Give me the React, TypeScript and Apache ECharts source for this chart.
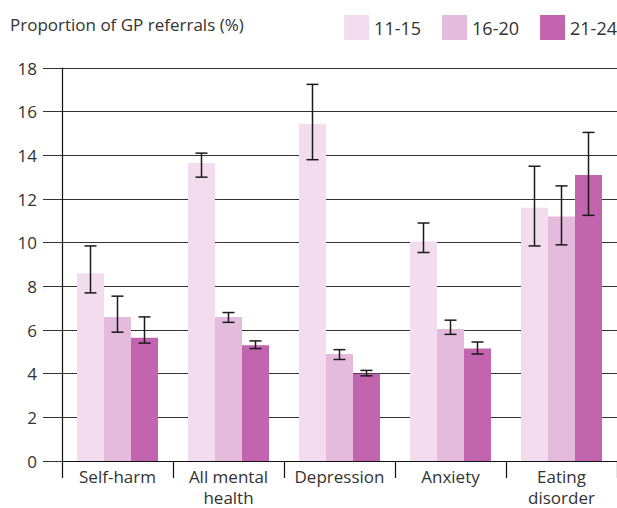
import React, { useEffect, useRef } from "react";
import * as echarts from "echarts";

const categories = ["Self-harm", "All mental\nhealth", "Depression", "Anxiety", "Eating\ndisorder"];
const seriesNames = ["11-15", "16-20", "21-24"];
const colors = ["#f2dcee", "#e4bbdc", "#c264ae"];

const values11to15 = [8.6, 13.65, 15.45, 10.05, 11.6];
const values16to20 = [6.6, 6.6, 4.9, 6.05, 11.2];
const values21to24 = [5.65, 5.3, 4.0, 5.15, 13.1];

const low11to15 = [7.7, 13.0, 13.8, 9.55, 9.85];
const high11to15 = [9.85, 14.1, 17.25, 10.9, 13.5];
const low16to20 = [5.9, 6.35, 4.65, 5.8, 9.9];
const high16to20 = [7.55, 6.8, 5.1, 6.45, 12.6];
const low21to24 = [5.4, 5.15, 3.9, 4.9, 11.25];
const high21to24 = [6.6, 5.5, 4.15, 5.45, 15.05];

const yTicks = [0, 2, 4, 6, 8, 10, 12, 14, 16, 18];

const allValues = [values11to15, values16to20, values21to24];
const allLows = [low11to15, low16to20, low21to24];
const allHighs = [high11to15, high16to20, high21to24];

const BAR_W = 27;
const FONT = "'Open Sans', 'Noto Sans', sans-serif";

export default function App() {
  const ref = useRef<HTMLDivElement>(null);
  useEffect(() => {
    if (!ref.current) return;
    const chart = echarts.init(ref.current, null, { renderer: "svg" });

    const barSeries = seriesNames.map((name, i) => ({
      name,
      type: "bar",
      data: allValues[i],
      barWidth: BAR_W,
      barGap: "0%",
      itemStyle: { color: colors[i] },
      z: 2,
    }));

    const errorSeries = seriesNames.map((name, i) => ({
      name: name + "-err",
      type: "custom",
      data: categories.map((_, j) => [j, allLows[i][j], allHighs[i][j]]),
      z: 5,
      renderItem: (params: any, api: any) => {
        const x = api.value(0);
        const lo = api.coord([x, api.value(1)]);
        const hi = api.coord([x, api.value(2)]);
        const cx = lo[0] + (i - 1) * BAR_W;
        const hw = 6;
        const style = { stroke: "#1a1a1a", lineWidth: 1.5 };
        return {
          type: "group",
          children: [
            { type: "line", shape: { x1: cx, y1: hi[1], x2: cx, y2: lo[1] }, style },
            { type: "line", shape: { x1: cx - hw, y1: hi[1], x2: cx + hw, y2: hi[1] }, style },
            { type: "line", shape: { x1: cx - hw, y1: lo[1], x2: cx + hw, y2: lo[1] }, style },
          ],
        };
      },
    }));

    chart.setOption({
      animation: false,
      textStyle: { fontFamily: FONT },
      title: {
        text: "Proportion of GP referrals (%)",
        left: 10,
        top: 16,
        padding: 0,
        textStyle: { fontSize: 17, fontWeight: "normal", color: "#333", fontFamily: FONT },
      },
      legend: {
        data: seriesNames,
        right: 0,
        top: 15,
        padding: 0,
        itemWidth: 25,
        itemHeight: 25,
        itemGap: 21,
        icon: "rect",
        textStyle: { fontSize: 18, color: "#333", fontFamily: FONT },
      },
      grid: { left: 62, right: 0, top: 68, bottom: 46, containLabel: false },
      xAxis: {
        type: "category",
        data: categories,
        boundaryGap: true,
        axisLine: { lineStyle: { color: "#111", width: 1.2 } },
        axisTick: { show: true, length: 17, alignWithLabel: false, lineStyle: { color: "#111", width: 1.2 } },
        axisLabel: { fontSize: 17, lineHeight: 21, color: "#333", margin: 5, fontFamily: FONT, interval: 0 },
        splitLine: { show: false },
      },
      yAxis: {
        type: "value",
        min: yTicks[0],
        max: yTicks[yTicks.length - 1],
        interval: 2,
        axisLine: { show: true, lineStyle: { color: "#111", width: 1.2 } },
        axisTick: { show: true, length: 19, lineStyle: { color: "#333", width: 1 } },
        axisLabel: { fontSize: 17, color: "#333", margin: 25, fontFamily: FONT },
        splitLine: { show: true, lineStyle: { color: "#333", width: 1 } },
      },
      series: [...barSeries, ...errorSeries],
    });
    return () => chart.dispose();
  }, []);
  return (
    <div
      ref={ref}
      style={{ position: "absolute", left: 0, top: 0, width: 617, height: 508, background: "#fff" }}
    />
  );
}
